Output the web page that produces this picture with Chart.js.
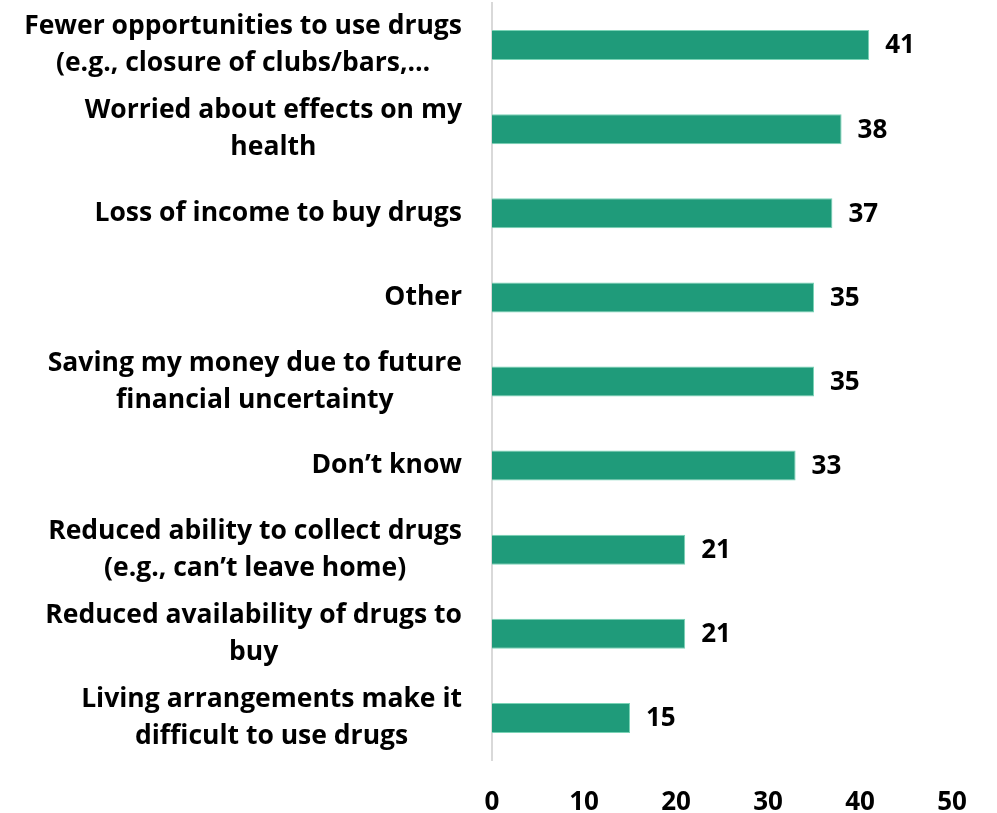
<!DOCTYPE html>
<html>
<head>
<meta charset="utf-8">
<script src="https://cdn.jsdelivr.net/npm/chart.js@4/dist/chart.umd.min.js"></script>
<style>
  html, body { margin: 0; padding: 0; background: #fff; }
  #wrap { width: 997px; height: 813px; }
</style>
</head>
<body>
<div id="wrap"><canvas id="myChart"></canvas></div>
<script>
// categories (each entry is the wrapped lines of the label)
var categories = [
  ['Fewer opportunities to use drugs', '(e.g., closure of clubs/bars,\u2026'],
  ['Worried about effects on my', 'health'],
  ['Loss of income to buy drugs'],
  ['Other'],
  ['Saving my money due to future', 'financial uncertainty'],
  ['Don\u2019t know'],
  ['Reduced ability to collect drugs', '(e.g., can\u2019t leave home)'],
  ['Reduced availability of drugs to', 'buy'],
  ['Living arrangements make it', 'difficult to use drugs']
];
var values = [41, 38, 37, 35, 35, 33, 21, 21, 15];
var xTicks = [0, 10, 20, 30, 40, 50];

var FONT = '"Open Sans", sans-serif';

// draws the wrapped category labels and the value labels
var labelPlugin = {
  id: 'labelPlugin',
  afterDatasetsDraw: function(chart) {
    var ctx = chart.ctx;
    var yScale = chart.scales.y;
    var meta = chart.getDatasetMeta(0);
    ctx.save();
    ctx.fillStyle = '#000';
    ctx.textBaseline = 'middle';

    ctx.font = 'bold 26.5px ' + FONT;
    categories.forEach(function(lines, i) {
      var y = yScale.getPixelForValue(i);
      var widest = 0;
      lines.forEach(function(l) { widest = Math.max(widest, ctx.measureText(l).width); });
      var cx = chart.chartArea.left - 30 - widest / 2;
      ctx.textAlign = 'center';
      var lh = 37;
      var y0 = y - (lines.length - 1) * lh / 2;
      lines.forEach(function(l, j) {
        ctx.fillText(l, cx, y0 + j * lh);
      });
    });

    ctx.font = 'bold 26px ' + FONT;
    ctx.textAlign = 'left';
    meta.data.forEach(function(bar, i) {
      ctx.fillText(String(values[i]), bar.x + 16, bar.y + 1);
    });
    ctx.restore();
  }
};

var ctx = document.getElementById('myChart');
var myChart = new Chart(ctx, {
  type: 'bar',
  data: {
    labels: categories.map(function(c) { return c.join(' '); }),
    datasets: [{
      data: values,
      backgroundColor: '#1f9b7a',
      borderColor: '#7ad3b6',
      borderWidth: 1,
      barPercentage: 0.357,
      categoryPercentage: 1
    }]
  },
  options: {
    indexAxis: 'y',
    responsive: true,
    maintainAspectRatio: false,
    animation: false,
    layout: { padding: { top: 3, right: 45, bottom: 0, left: 0 } },
    plugins: {
      legend: { display: false },
      tooltip: { enabled: false }
    },
    scales: {
      x: {
        min: 0,
        max: 50,
        afterBuildTicks: function(s) { s.ticks = xTicks.map(function(v) { return { value: v }; }); },
        afterFit: function(s) { s.height = 53; },
        grid: { display: false, drawTicks: false },
        border: { display: false },
        ticks: {
          color: '#000',
          padding: 27,
          font: { family: FONT, size: 26, weight: 'bold' }
        }
      },
      y: {
        afterFit: function(s) { s.width = 492; },
        grid: { display: false, drawTicks: false },
        border: { display: true, color: '#d9d9d9', width: 2 },
        ticks: { display: false }
      }
    }
  },
  plugins: [labelPlugin]
});
</script>
</body>
</html>
